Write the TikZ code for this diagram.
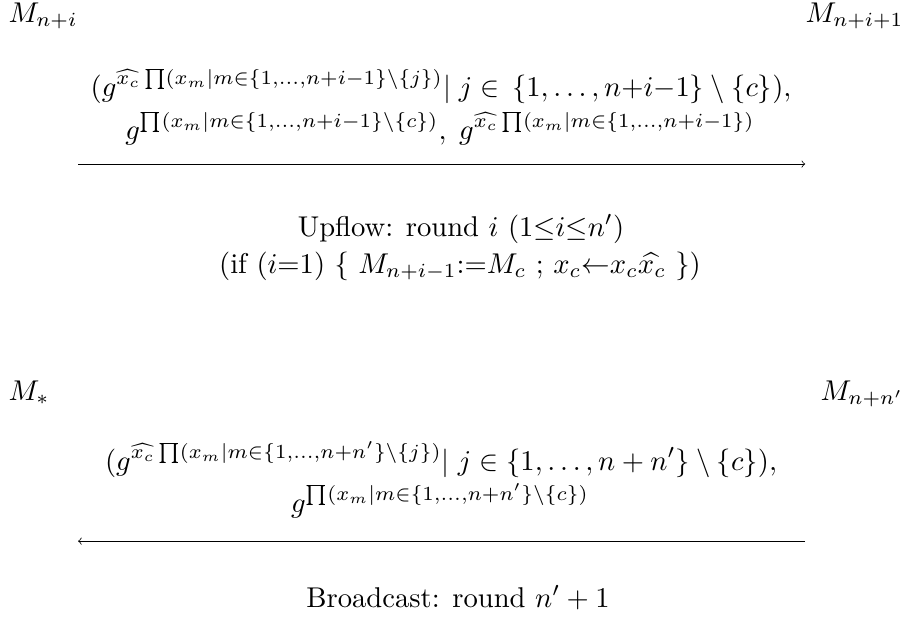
\documentclass[tikz,border=0pt]{standalone}
\usepackage{amsmath}
\usepackage{amssymb}
\tikzset{
  party/.style={inner sep=0pt},
  msg/.style={inner sep=0pt, anchor=base},
  note/.style={inner sep=0pt, anchor=base},
  flow/.style={thin}
}
\begin{document}
\begin{tikzpicture}[x=0.34965pt,y=-0.34965pt,scale=1.43,every node/.style={transform shape}]
  \useasboundingbox (0,0) rectangle (906,630);
  % upflow round
  \node[party, anchor=base west] (Mi) at (8,22) {$M_{n+i}$};
  \node[party, anchor=base east] (Mj) at (904,22) {$M_{n+i+1}$};
  \node[msg] (up1) at (441,96) {$\displaystyle (g^{\widehat{x_c}\prod(x_m|m\in\{1,\ldots,n+i-1\}\setminus\{j\})}|\;j \in\,\{1,\ldots,n{+}i{-}1\}\setminus\{c\}),$};
  \node[msg] (up2) at (440,139) {$\displaystyle g^{\prod(x_m|m\in\{1,\ldots,n+i-1\}\setminus\{c\})},\;g^{\widehat{x_c}\prod(x_m|m\in\{1,\ldots,n+i-1\})}$};
  \coordinate (ua) at (78,164);
  \coordinate (ub) at (805,164);
  \draw[flow, ->] (ua) -- (ub);
  \node[note] (upr) at (461,236) {Upflow: round $i$ ($1{\le}i{\le}n'$)};
  \node[note] (upc) at (460,273) {(if ($i{=}1$) \{ $M_{n+i-1}{:=}M_c$ ; $x_c{\leftarrow}x_c\widehat{x_c}$ \})};
  % broadcast round
  \node[party, anchor=base west] (Ms) at (8,400) {$M_*$};
  \node[party, anchor=base east] (Mn) at (904,400) {$M_{n+n'}$};
  \node[msg] (bc1) at (441,470) {$\displaystyle (g^{\widehat{x_c}\prod(x_m|m\in\{1,\ldots,n+n'\}\setminus\{j\})}|\;j \in \{1,\ldots,n+n'\}\setminus\{c\}),$};
  \node[msg] (bc2) at (440,512) {$\displaystyle g^{\prod(x_m|m\in\{1,\ldots,n+n'\}\setminus\{c\})}$};
  \coordinate (ba) at (805,541);
  \coordinate (bb) at (78,541);
  \draw[flow, ->] (ba) -- (bb);
  \node[note] (bcr) at (458,607) {Broadcast: round $n'+1$};
\end{tikzpicture}
\end{document}
